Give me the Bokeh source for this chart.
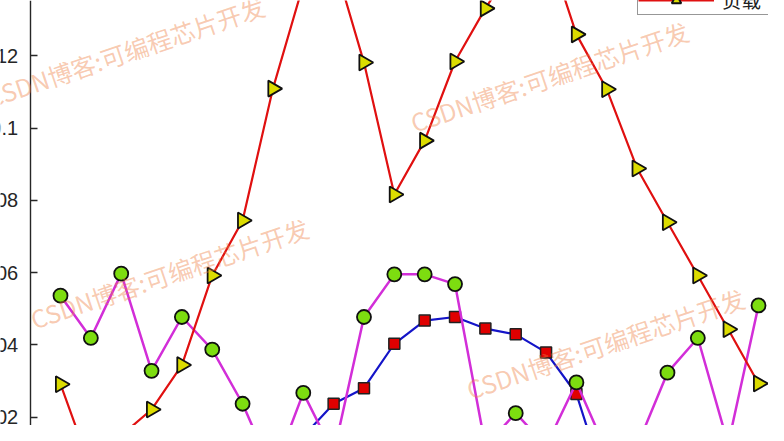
import numpy as np
from bokeh.plotting import figure
from bokeh.models import (Range1d, LinearAxis, FixedTicker, Legend, LegendItem,
                          Label, ColumnDataSource)
from bokeh.embed import file_html
from bokeh.resources import INLINE

# ---------------- data ----------------
hours = list(range(1, 25))
load = [0.0291, 0.0059, 0.0149, 0.0221, 0.0344, 0.0592, 0.0744, 0.1109,
        0.1397, 0.1467, 0.1181, 0.0816, 0.0965, 0.1184, 0.1331, 0.1459,
        0.1515, 0.1259, 0.1107, 0.0888, 0.0739, 0.0592, 0.0443, 0.0293]
wind = [0.0536, 0.0419, 0.0597, 0.0328, 0.0477, 0.0387, 0.0237, 0.0045,
        0.0267, 0.0099, 0.0477, 0.0595, 0.0595, 0.0568, 0.0120, 0.0211,
        0.0120, 0.0296, 0.0104, 0.0120, 0.0323, 0.0419, 0.0125, 0.0509]
pv = [0, 0, 0, 0, 0, 0, 0, 0,
      0.0147, 0.0237, 0.0280, 0.0403, 0.0467, 0.0477, 0.0445, 0.0429,
      0.0379, 0.0264, 0, 0, 0, 0, 0, 0]
y_ticks = [0.02, 0.04, 0.06, 0.08, 0.1, 0.12]
y_tick_labels = ["0.02", "0.04", "0.06", "0.08", "0.1", "0.12"]
legend_label = "负载"
watermark = "CSDN博客:可编程芯片开发"

# ---------------- figure ----------------
W, H = 768, 425
p = figure(width=W, height=H, output_backend="svg", toolbar_location=None,
           x_range=Range1d(-0.977, 24.329), y_range=Range1d(0.01768, 0.13528),
           x_axis_location=None, y_axis_location=None, min_border=0,
           outline_line_color=None, background_fill_color="white",
           border_fill_color="white")
p.grid.visible = False

axis_color = "#262626"
left_ax = LinearAxis(fixed_location=0, ticker=FixedTicker(ticks=y_ticks),
                     major_label_overrides=dict(zip(y_ticks, y_tick_labels)),
                     major_tick_in=7, major_tick_out=0,
                     minor_tick_in=0, minor_tick_out=0,
                     major_label_standoff=12,
                     major_label_text_font="Liberation Sans",
                     major_label_text_font_size="20px",
                     major_label_text_color=axis_color,
                     axis_line_color=axis_color, axis_line_width=1.4,
                     major_tick_line_color=axis_color, major_tick_line_width=1.4)
p.add_layout(left_ax, "left")

right_ax = LinearAxis(fixed_location=25, ticker=FixedTicker(ticks=y_ticks),
                      major_tick_in=7, major_tick_out=0,
                      minor_tick_in=0, minor_tick_out=0,
                      major_label_text_color=None,
                      axis_line_color=axis_color, axis_line_width=1.4,
                      major_tick_line_color=axis_color, major_tick_line_width=1.4)
p.add_layout(right_ax, "right")

src = ColumnDataSource(dict(hour=hours, load=load, wind=wind, pv=pv))

# PV (blue line, red squares)
p.line("hour", "pv", source=src, line_color="#1414C8", line_width=2.2)
p.scatter("hour", "pv", source=src, marker="square", size=11,
          fill_color="#E00000", line_color="#202020", line_width=1.5)

# wind (magenta line, green circles)
p.line("hour", "wind", source=src, line_color="#D22ED8", line_width=2.5)
p.scatter("hour", "wind", source=src, marker="circle", size=14,
          fill_color="#7DDD10", line_color="#101010", line_width=1.8)

# load (red line, yellow right-pointing triangles)
r_load_line = p.line("hour", "load", source=src, line_color="#E01010", line_width=2.2)
r_load_pts = p.scatter("hour", "load", source=src, marker="triangle", size=16,
                       angle=-np.pi / 2, fill_color="#DCDC00",
                       line_color="#101010", line_width=1.8)

legend = Legend(items=[LegendItem(label=legend_label,
                                  renderers=[r_load_line, r_load_pts])],
                location=(637, 410), padding=0, margin=0, spacing=0,
                glyph_width=76, glyph_height=24, label_height=24,
                label_width=46, label_standoff=8,
                label_text_font="Noto Sans CJK SC",
                label_text_font_size="19.5px", label_text_color="#202020",
                border_line_color="#303030", border_line_width=1,
                background_fill_color="white", background_fill_alpha=1)
p.add_layout(legend)

# watermark (screen positions, y measured from bottom)
wm_pos = [(125, 373.9), (549, 348.9), (169, 152.3), (605, 81.9)]
for (sx, sy) in wm_pos:
    p.add_layout(Label(x=sx, y=sy, x_units="screen", y_units="screen",
                       text=watermark, angle=0.325, text_align="center",
                       text_baseline="middle", text_font="Noto Sans CJK SC",
                       text_font_size="24.5px", text_color="#EE7F45",
                       text_alpha=0.42))

open("out.html", "w").write(file_html(p, INLINE))
